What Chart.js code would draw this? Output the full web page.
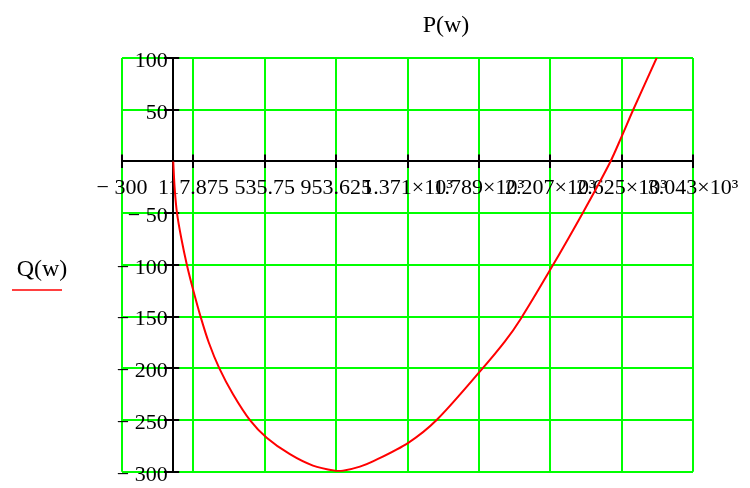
<!DOCTYPE html>
<html>
<head>
<meta charset="utf-8">
<script src="https://cdn.jsdelivr.net/npm/chart.js@4"></script>
<style>
  html, body { margin:0; padding:0; background:#fff; }
  #wrap { width:750px; height:488px; }
</style>
</head>
<body>
<div id="wrap"><canvas id="c" width="750" height="488"></canvas></div>
<script>
// ---- data ------------------------------------------------------------------
const pValues = [0, 8, 22, 48, 80, 118, 160, 208, 270, 350, 449, 547, 683, 818, 947, 994,
                 1093, 1169, 1376, 1542, 1796, 1942, 2035, 2206, 2400, 2557, 2625, 2693, 2830, 2910];
const qValues = [0, -25, -50, -75, -100, -125, -150, -175, -200, -225, -250, -267, -283, -294, -299, -299,
                 -295, -290, -272, -250, -203, -174, -152, -105, -49, -1, 24, 50, 100, 130];

const xTickValues = [-300, 117.875, 535.75, 953.625, 1371.5, 1789.375, 2207.25, 2625.125, 3043];
const xTickLabels = ["− 300", "117.875", "535.75", "953.625", "1.371×10³", "1.789×10³",
                     "2.207×10³", "2.625×10³", "3.043×10³"];
const yTickValues = [-300, -250, -200, -150, -100, -50, 0, 50, 100];
const yTickLabels = ["− 300", "− 250", "− 200", "− 150", "− 100", "− 50", "", "50", "100"];

const seriesName = "Q(w)";
const xName = "P(w)";

const FONT = "'Liberation Serif', 'Times New Roman', serif";
const GREEN = "#00ff00";

// ticks in Mathcad cross the axis line: draw the inner half ourselves
const crossTicks = {
  id: "crossTicks",
  beforeDatasetsDraw(chart){
    const { ctx, scales:{ x, y } } = chart;
    const x0 = x.getPixelForValue(0) , y0 = y.getPixelForValue(0);
    ctx.save();
    ctx.strokeStyle = "#000"; ctx.lineWidth = 2;
    ctx.beginPath();
    xTickValues.forEach(v => { const px = Math.round(x.getPixelForValue(v)); ctx.moveTo(px, y0); ctx.lineTo(px, y0 - 7); });
    yTickValues.forEach(v => { const py = Math.round(y.getPixelForValue(v)); ctx.moveTo(x0, py); ctx.lineTo(x0 + 6, py); });
    ctx.stroke();
    ctx.restore();
  }
};

// axis names: P(w) on top, Q(w) at left with its line sample
const names = {
  id: "names",
  afterDraw(chart){
    const { ctx } = chart;
    ctx.save();
    ctx.fillStyle = "#000";
    ctx.font = "24px " + FONT;
    ctx.textAlign = "center"; ctx.textBaseline = "middle";
    ctx.fillText(xName, 446, 26);
    ctx.fillText(seriesName, 42, 270);
    ctx.strokeStyle = "#ff0000"; ctx.lineWidth = 1.5;
    ctx.beginPath(); ctx.moveTo(12, 290); ctx.lineTo(62, 290); ctx.stroke();
    ctx.restore();
  }
};

new Chart(document.getElementById("c"), {
  type: "scatter",
  data: {
    datasets: [{
      label: seriesName,
      data: pValues.map((p, i) => ({ x: p, y: qValues[i] })),
      showLine: true,
      borderColor: "#ff0000",
      borderWidth: 2,
      pointRadius: 0,
      tension: 0.3
    }]
  },
  options: {
    responsive: false,
    animation: false,
    devicePixelRatio: 1,
    layout: { padding: { left: 122, right: 57, top: 58, bottom: 14 } },
    plugins: { legend: { display: false }, tooltip: { enabled: false } },
    scales: {
      x: {
        type: "linear", position: { y: 0 },
        min: -300, max: 3043,
        afterBuildTicks: s => { s.ticks = xTickValues.map(v => ({ value: v })); },
        ticks: {
          autoSkip: false, maxRotation: 0, minRotation: 0, padding: 8,
          color: "#000", font: { family: FONT, size: 22 },
          callback: (v, i) => xTickLabels[i]
        },
        grid: { color: GREEN, lineWidth: 2, tickColor: "#000", tickLength: 6 },
        border: { display: true, color: "#000", width: 2 }
      },
      y: {
        type: "linear", position: { x: 0 },
        min: -300, max: 100,
        afterBuildTicks: s => { s.ticks = yTickValues.map(v => ({ value: v })); },
        ticks: {
          autoSkip: false, labelOffset: 3,
          color: "#000", font: { family: FONT, size: 22 },
          // positioned y axis ignores padding, a trailing space pulls labels off the line
          callback: (v, i) => yTickLabels[i] ? yTickLabels[i] + " " : ""
        },
        grid: { color: GREEN, lineWidth: 2, tickColor: "#000", tickLength: 8 },
        border: { display: true, color: "#000", width: 2 }
      }
    }
  },
  plugins: [crossTicks, names]
});
</script>
</body>
</html>
